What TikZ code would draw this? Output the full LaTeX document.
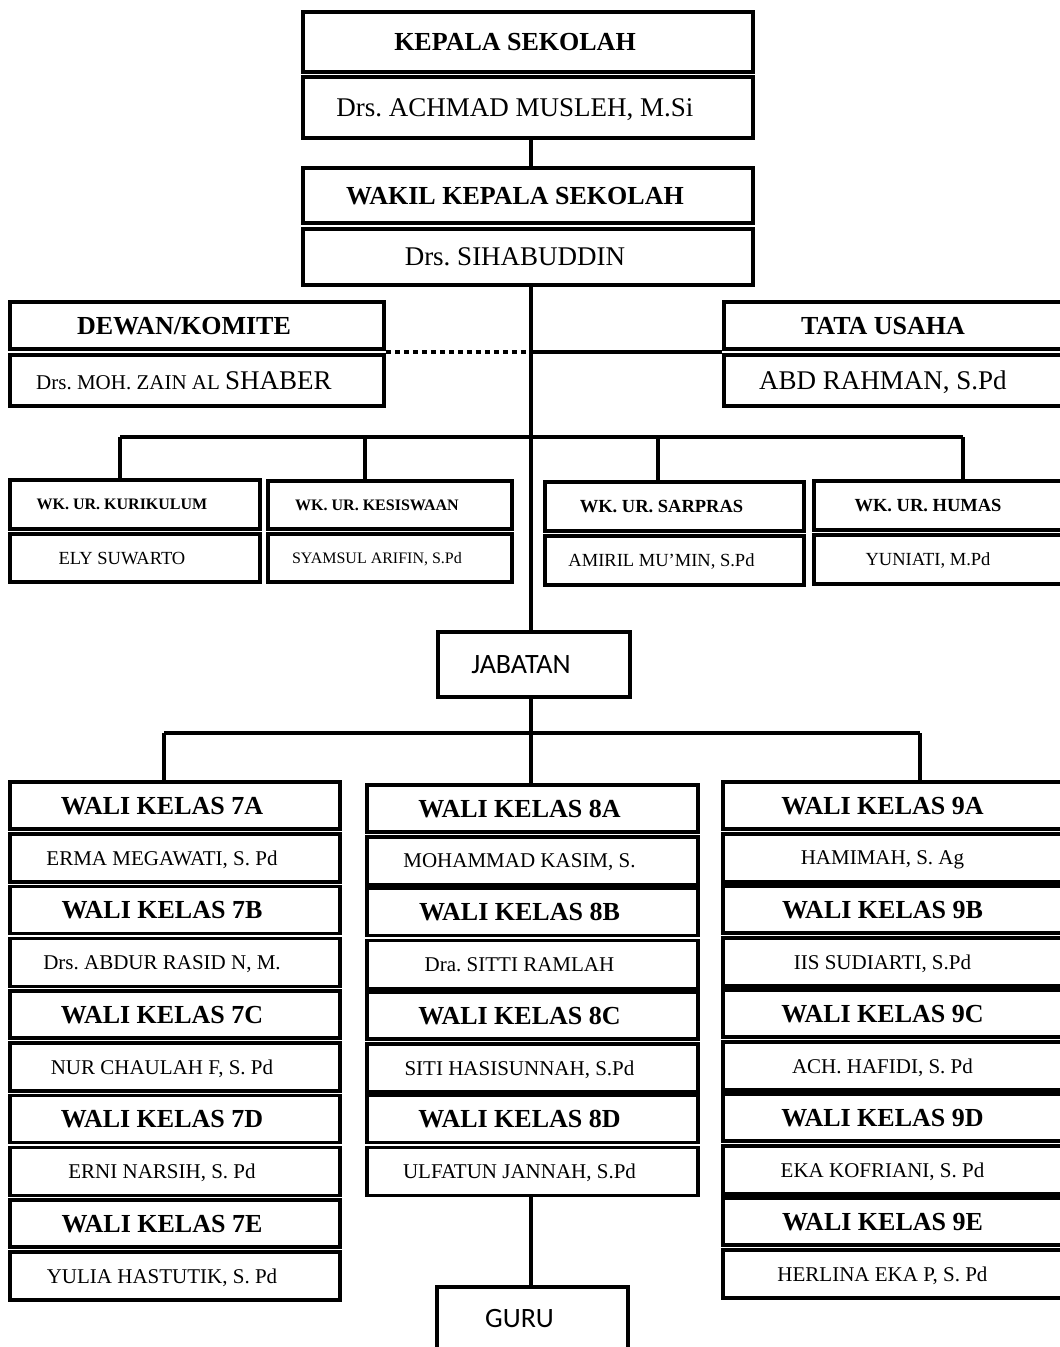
\documentclass[tikz,border=0pt]{standalone}
\usepackage{fontspec}
\setmainfont{Liberation Serif}
\newfontfamily\calibri{Carlito}
\frenchspacing

% box from (x1,y1) to (x2,y2), in pixels of the page
\def\orgcell#1#2#3#4#5#6#7{%
  \node[#2, minimum width={(#5)-(#3)}, minimum height={(#6)-(#4)}]
    (#1) at ({((#3)+(#5))/2},{((#4)+(#6))/2}) {#7};}

\tikzset{
  orgbox/.style={draw, line width=3.5pt, inner sep=0pt, text depth=0pt,
    execute at begin node={\kern-26pt}},
  headcell/.style={orgbox, font=\fontsize{26}{30}\selectfont\bfseries},
  topcell/.style={orgbox, font=\fontsize{27}{30}\selectfont},
  nmcell/.style={orgbox, font=\fontsize{21}{24}\selectfont},
  wkhead/.style={orgbox, font=\fontsize{18.5}{22}\selectfont\bfseries},
  wkhsmall/.style={orgbox, font=\fontsize{16}{19}\selectfont\bfseries},
  wkname/.style={orgbox, font=\fontsize{18.5}{22}\selectfont},
  wknsmall/.style={orgbox, font=\fontsize{16}{19}\selectfont},
  sanscell/.style={orgbox, font=\calibri\fontsize{28}{32}\selectfont},
  link/.style={line width=3.2pt},
  dotlink/.style={line width=4pt, dash pattern=on 5pt off 4pt}
}

\begin{document}
\begin{tikzpicture}[x=1pt, y=-1pt]
  \useasboundingbox (0,0) rectangle (1060,1347);
  \clip (0,0) rectangle (1060,1347);

  % top of the chart
  \orgcell{keph}{headcell}{303}{12}{753}{72}{KEPALA SEKOLAH}
  \orgcell{kepn}{topcell}{303}{77}{753}{138}{Drs. ACHMAD MUSLEH, M.Si}
  \orgcell{wakh}{headcell}{303}{168}{753}{223}{WAKIL KEPALA SEKOLAH}
  \orgcell{wakn}{topcell}{303}{229}{753}{285}{Drs. SIHABUDDIN}
  \orgcell{dewh}{headcell}{10}{302}{384}{349}{DEWAN/KOMITE}
  \orgcell{dewn}{topcell}{10}{355}{384}{406}{\fontsize{21}{24}\selectfont
    Drs. MOH. ZAIN AL {\fontsize{27}{30}\selectfont SHABER}}
  \orgcell{tuh}{headcell}{724}{302}{1068}{349}{TATA USAHA}
  \orgcell{tun}{topcell}{724}{355}{1068}{406}{ABD RAHMAN, S.Pd}

  % wakil urusan
  \orgcell{kurh}{wkhsmall}{10}{480}{260}{529}{WK. UR. KURIKULUM}
  \orgcell{kurn}{wkname}{10}{534}{260}{582}{ELY SUWARTO}
  \orgcell{kesh}{wkhsmall}{268}{481}{512}{529}{WK. UR. KESISWAAN}
  \orgcell{kesn}{wknsmall}{268}{534}{512}{582}{SYAMSUL ARIFIN, S.Pd}
  \orgcell{sarh}{wkhead}{545}{482}{804}{531}{WK. UR. SARPRAS}
  \orgcell{sarn}{wkname}{545}{536}{804}{585}{AMIRIL MU’MIN, S.Pd}
  \orgcell{humh}{wkhead}{814}{481}{1068}{530}{WK. UR. HUMAS}
  \orgcell{humn}{wkname}{814}{535}{1068}{584}{YUNIATI, M.Pd}

  \orgcell{jab}{sanscell}{438}{632}{630}{697}{JABATAN}

  % wali kelas
  \foreach \r/\nm [count=\j from 0] in {
      A/{ERMA MEGAWATI, S. Pd},
      B/{Drs. ABDUR RASID N, M.},
      C/{NUR CHAULAH F, S. Pd},
      D/{ERNI NARSIH, S. Pd},
      E/{YULIA HASTUTIK, S. Pd}} {
    \pgfmathsetmacro\ty{782+\j*104.5}
    \orgcell{w7\r}{headcell}{10}{\ty}{340}{\ty+47}{WALI KELAS 7\r}
    \orgcell{n7\r}{nmcell}{10}{\ty+52}{340}{\ty+100}{\nm}
  }
  \foreach \r/\nm [count=\j from 0] in {
      A/{MOHAMMAD KASIM, S.},
      B/{Dra. SITTI RAMLAH},
      C/{SITI HASISUNNAH, S.Pd},
      D/{ULFATUN JANNAH, S.Pd}} {
    \pgfmathsetmacro\ty{785+\j*103.5}
    \orgcell{w8\r}{headcell}{367}{\ty}{698}{\ty+47}{WALI KELAS 8\r}
    \orgcell{n8\r}{nmcell}{367}{\ty+52}{698}{\ty+100}{\nm}
  }
  \foreach \r/\nm [count=\j from 0] in {
      A/{HAMIMAH, S. Ag},
      B/{IIS SUDIARTI, S.Pd},
      C/{ACH. HAFIDI, S. Pd},
      D/{EKA KOFRIANI, S. Pd},
      E/{HERLINA EKA P, S. Pd}} {
    \pgfmathsetmacro\ty{782+\j*104}
    \orgcell{w9\r}{headcell}{723}{\ty}{1068}{\ty+47}{WALI KELAS 9\r}
    \orgcell{n9\r}{nmcell}{723}{\ty+52}{1068}{\ty+100}{\nm}
  }

  \orgcell{guru}{sanscell}{437}{1287}{628}{1350}{GURU}

  % connectors
  \coordinate (spine) at (531,352);
  \coordinate (d1) at (120,437);
  \coordinate (d2) at (365,437);
  \coordinate (d3) at (658,437);
  \coordinate (d4) at (963,437);
  \coordinate (e1) at (164,733);
  \coordinate (e3) at (920,733);

  \draw[link] (kepn.south -| spine) -- (wakh.north -| spine);
  \draw[link] (wakn.south -| spine) -- (jab.north -| spine);
  \draw[dotlink] (spine -| dewh.east) -- (spine);
  \draw[link] (spine) -- (spine -| tuh.west);
  \draw[link] (d1) -- (d4);
  \foreach \d/\n in {d1/kurh, d2/kesh, d3/sarh, d4/humh}
    \draw[link] (\d) -- (\d |- \n.north);
  \draw[link] (e1) -- (e3);
  \draw[link] (e1) -- (e1 |- w7A.north);
  \draw[link] (jab.south -| spine) -- (w8A.north -| spine);
  \draw[link] (e3) -- (e3 |- w9A.north);
  \draw[link] (n8D.south -| spine) -- (guru.north -| spine);
\end{tikzpicture}
\end{document}
